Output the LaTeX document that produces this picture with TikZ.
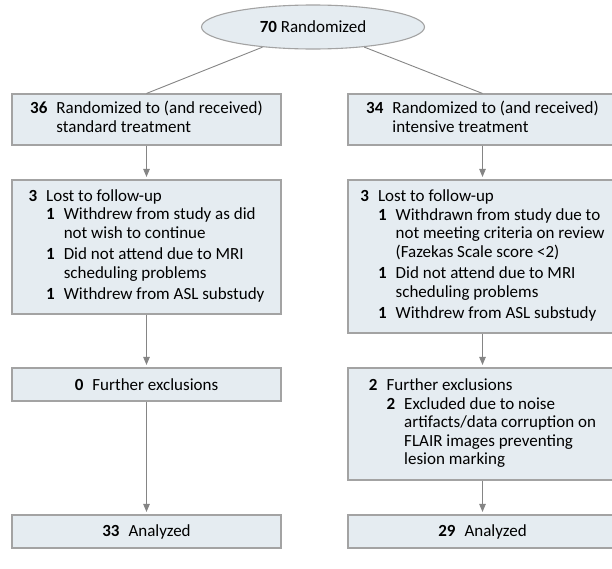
\documentclass[tikz,border=0pt]{standalone}
\usepackage{fontspec}
\setmainfont{Carlito}
\usepackage{tikz}
\usetikzlibrary{arrows.meta,shapes.geometric}

\definecolor{boxfill}{HTML}{E5ECF1}
\definecolor{boxline}{HTML}{A3A3A3}
\definecolor{arrowgray}{HTML}{858585}

\newcommand{\tally}[1]{\textbf{#1}}
\newcommand{\listing}[1]{\begin{tabular}[t]{@{}l@{\hspace{9pt}}l@{}}#1\end{tabular}}

\begin{document}
\begin{tikzpicture}[x=1pt,y=-1pt,
  font=\fontsize{17}{18.5}\selectfont,
  flowbox/.style={draw=boxline,fill=boxfill,line width=1.1pt,inner sep=0pt,minimum width=269pt},
  linkline/.style={draw=arrowgray,line width=0.9pt},
  flowarrow/.style={draw=arrowgray,line width=0.9pt,shorten >=2.5pt,
    -{Triangle[length=8pt,width=6.5pt]}}]
\useasboundingbox (0,0) rectangle (612,568);

\node[ellipse,draw=boxline,fill=boxfill,line width=1.1pt,inner sep=0pt,
  minimum width=223pt,minimum height=44pt] (rand) at (313,27) {\tally{70} Randomized};

% standard arm
\node[flowbox,minimum height=51pt] (std) at (146.5,119.5)
  {\listing{\tally{36} & Randomized to (and received)\\ & standard treatment}};
\node[flowbox,minimum height=134pt] (lostA) at (146.5,247)
  {\listing{\tally{3} & Lost to follow-up\\
    & \listing{\tally{1} & Withdrew from study as did\\ & not wish to continue\\[3pt]
               \tally{1} & Did not attend due to MRI\\ & scheduling problems\\[3pt]
               \tally{1} & Withdrew from ASL substudy}}};
\node[flowbox,minimum height=33pt] (exclA) at (146.5,384.5) {\tally{0}\hspace{9pt}Further exclusions};
\node[flowbox,minimum height=33pt] (anA) at (146.5,531.5) {\tally{33}\hspace{9pt}Analyzed};

% intensive arm
\node[flowbox,minimum height=51pt] (int) at (482.5,119.5)
  {\listing{\tally{34} & Randomized to (and received)\\ & intensive treatment}};
\node[flowbox,minimum height=153pt] (lostB) at (482.5,256.5)
  {\listing{\tally{3} & Lost to follow-up\\
    & \listing{\tally{1} & Withdrawn from study due to\\ & not meeting criteria on review\\ & (Fazekas Scale score <2)\\[3pt]
               \tally{1} & Did not attend due to MRI\\ & scheduling problems\\[3pt]
               \tally{1} & Withdrew from ASL substudy}}};
\node[flowbox,minimum height=112pt] (exclB) at (482.5,424)
  {\listing{\tally{2} & Further exclusions\\
    & \listing{\tally{2} & Excluded due to noise\\ & artifacts/data corruption on\\
               & FLAIR images preventing\\ & lesion marking}}};
\node[flowbox,minimum height=33pt] (anB) at (482.5,531.5) {\tally{29}\hspace{9pt}Analyzed};

\draw[linkline] (rand) -- (std.north);
\draw[linkline] (rand) -- (int.north);

\draw[flowarrow] (std) -- (lostA);
\draw[flowarrow] (lostA) -- (exclA);
\draw[flowarrow] (exclA) -- (anA);
\draw[flowarrow] (int) -- (lostB);
\draw[flowarrow] (lostB) -- (exclB);
\draw[flowarrow] (exclB) -- (anB);
\end{tikzpicture}
\end{document}
